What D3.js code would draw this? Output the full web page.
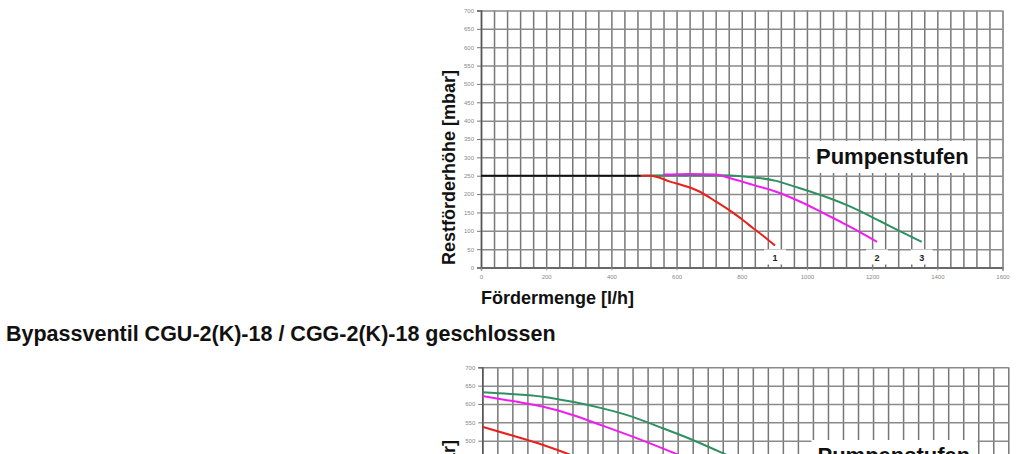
<!DOCTYPE html>
<html>
<head>
<meta charset="utf-8">
<script src="https://cdn.jsdelivr.net/npm/d3@7"></script>
<style>
  body { margin: 0; background: #fff; }
  svg { display: block; font-family: "Liberation Sans", Arial, sans-serif; }
</style>
</head>
<body>
<div id="chart"></div>
<script>
// Tick labels
const yTickValues = [0, 50, 100, 150, 200, 250, 300, 350, 400, 450, 500, 550, 600, 650, 700];
const xTickValuesOpen = [0, 200, 400, 600, 800, 1000, 1200, 1400, 1600];
const xTickValuesClosed = [0, 200, 400, 600, 800, 1000, 1200, 1400];

// Bypass open: [Fördermenge l/h, Restförderhöhe mbar]
const openCommon = [[0, 250], [490, 250]];
const openStage1 = [[490, 250], [520, 250], [580, 234], [670, 207], [720, 180], [775, 148], [805, 128], [835, 107], [870, 83], [902, 60]];
const openStage2 = [[560, 253], [640, 255], [720, 253], [765, 243], [835, 225], [910, 205], [980, 179], [1040, 153], [1100, 126], [1160, 98], [1215, 70]];
const openStage3 = [[490, 250], [600, 251], [730, 251], [815, 247], [860, 243], [905, 236], [960, 221], [1040, 198], [1130, 167], [1225, 126], [1285, 99], [1352, 70]];

// Bypass closed (second chart, cut off by the page)
const closedStage1 = [[0, 538], [80, 514], [160, 489], [230, 463], [260, 450]];
const closedStage2 = [[0, 622], [80, 608], [160, 593], [240, 570], [320, 541], [400, 511], [480, 479], [540, 454]];
const closedStage3 = [[0, 632], [80, 627], [160, 620], [240, 606], [320, 588], [400, 565], [480, 534], [560, 502], [640, 466], [670, 452]];

const stageNames = ["1", "2", "3"];
const stageColors = ["#e8211d", "#f01cf0", "#2f9060"];

const pageHeight = 454;

const svg = d3.select("#chart")
    .append("svg")
    .attr("width", 1024)
    .attr("height", pageHeight);

svg.append("rect").attr("width", 1024).attr("height", pageHeight).attr("fill", "#fff");

// one panel of the pump diagram
function drawPanel(cfg) {
    const g = svg.append("g");

    const x = d3.scaleLinear().domain([0, cfg.xMax]).range([cfg.left, cfg.right]);
    const y = d3.scaleLinear().domain([0, 700]).range([cfg.bottom, cfg.top]);

    // grid
    g.append("g")
        .attr("transform", `translate(0,${cfg.bottom})`)
        .call(d3.axisBottom(x).tickValues(d3.range(0, cfg.xMax + 1, 40)).tickSize(-(cfg.bottom - cfg.top)).tickFormat(""))
        .call(a => a.select(".domain").remove())
        .selectAll("line").attr("stroke", "#777").attr("stroke-width", 1.5);

    g.append("g")
        .attr("transform", `translate(${cfg.left},0)`)
        .call(d3.axisLeft(y).tickValues(yTickValues).tickSize(-(cfg.right - cfg.left)).tickFormat(""))
        .call(a => a.select(".domain").remove())
        .selectAll("line").attr("stroke", "#8a8a8a").attr("stroke-width", 1.5);

    // axes (only the labels that fit on the page)
    const visibleY = yTickValues.filter(v => y(v) < pageHeight - 4);
    const yAxis = g.append("g")
        .attr("transform", `translate(${cfg.left},0)`)
        .call(d3.axisLeft(y).tickValues(visibleY).tickSize(4).tickPadding(3).tickFormat(d3.format("d")));
    yAxis.select(".domain").attr("stroke", "#555").attr("stroke-width", 1.5);
    yAxis.selectAll(".tick line").attr("stroke", "#777");
    yAxis.selectAll("text").attr("font-size", 6).attr("fill", "#888").attr("font-family", "Liberation Sans, Arial");

    if (cfg.bottom < pageHeight) {
        const xAxis = g.append("g")
            .attr("transform", `translate(0,${cfg.bottom})`)
            .call(d3.axisBottom(x).tickValues(cfg.xTicks).tickSize(3).tickPadding(4).tickFormat(d3.format("d")));
        xAxis.select(".domain").attr("stroke", "#555").attr("stroke-width", 1.5);
        xAxis.selectAll(".tick line").attr("stroke", "#999");
        xAxis.selectAll("text").attr("font-size", 6).attr("fill", "#888").attr("font-family", "Liberation Sans, Arial");
    }

    // curves
    const line = d3.line().x(d => x(d[0])).y(d => y(d[1])).curve(d3.curveMonotoneX);
    cfg.series.forEach(s => {
        g.append("path")
            .datum(s.data)
            .attr("fill", "none")
            .attr("stroke", s.color)
            .attr("stroke-width", 2)
            .attr("d", line);
    });

    // stage number boxes under the curve ends
    (cfg.stageEnds || []).forEach((v, i) => {
        g.append("rect")
            .attr("x", x(v) - 11).attr("y", cfg.bottom - 18)
            .attr("width", 22).attr("height", 15)
            .attr("fill", "#fff");
        g.append("text")
            .attr("x", x(v)).attr("y", cfg.bottom - 7)
            .attr("text-anchor", "middle")
            .attr("font-size", 9).attr("font-weight", "bold")
            .attr("fill", "#222")
            .text(stageNames[i]);
    });

    // "Pumpenstufen" label
    g.append("rect")
        .attr("x", cfg.boxX).attr("y", cfg.boxY)
        .attr("width", 166).attr("height", 32)
        .attr("fill", "#fff");
    g.append("text")
        .attr("x", cfg.boxX + 6).attr("y", cfg.boxY + 23)
        .attr("font-size", 22).attr("font-weight", "bold")
        .attr("fill", "#111")
        .text("Pumpenstufen");

    // y title
    svg.append("text")
        .attr("transform", `translate(455,${cfg.yTitleMid}) rotate(-90)`)
        .attr("text-anchor", "middle")
        .attr("font-size", 18).attr("font-weight", "bold")
        .attr("fill", "#111")
        .text("Restförderhöhe [mbar]");

    if (cfg.xTitle) {
        svg.append("text")
            .attr("x", cfg.left).attr("y", cfg.bottom + 36)
            .attr("font-size", 18).attr("font-weight", "bold")
            .attr("fill", "#111")
            .text("Fördermenge [l/h]");
    }
}

drawPanel({
    left: 481, right: 1002.5, top: 10.5, bottom: 267.5, xMax: 1600,
    xTicks: xTickValuesOpen,
    series: [
        {data: openStage3, color: stageColors[2]},
        {data: openStage1, color: stageColors[0]},
        {data: openStage2, color: stageColors[1]},
        {data: openCommon, color: "#111"}
    ],
    stageEnds: [openStage1[openStage1.length - 1][0], openStage2[openStage2.length - 1][0], openStage3[openStage3.length - 1][0]],
    boxX: 810, boxY: 141,
    yTitleMid: 167.5,
    xTitle: true
});

// heading between the two charts
svg.append("text")
    .attr("x", 6).attr("y", 341)
    .attr("font-size", 21.5).attr("font-weight", "bold")
    .attr("fill", "#111")
    .text("Bypassventil CGU-2(K)-18 / CGG-2(K)-18 geschlossen");

drawPanel({
    left: 482.3, right: 1008.3, top: 367.3, bottom: 624.2, xMax: 1400,
    xTicks: xTickValuesClosed,
    series: [
        {data: closedStage1, color: stageColors[0]},
        {data: closedStage2, color: stageColors[1]},
        {data: closedStage3, color: stageColors[2]}
    ],
    boxX: 811.5, boxY: 440,
    yTitleMid: 537.5,
    xTitle: false
});
</script>
</body>
</html>
